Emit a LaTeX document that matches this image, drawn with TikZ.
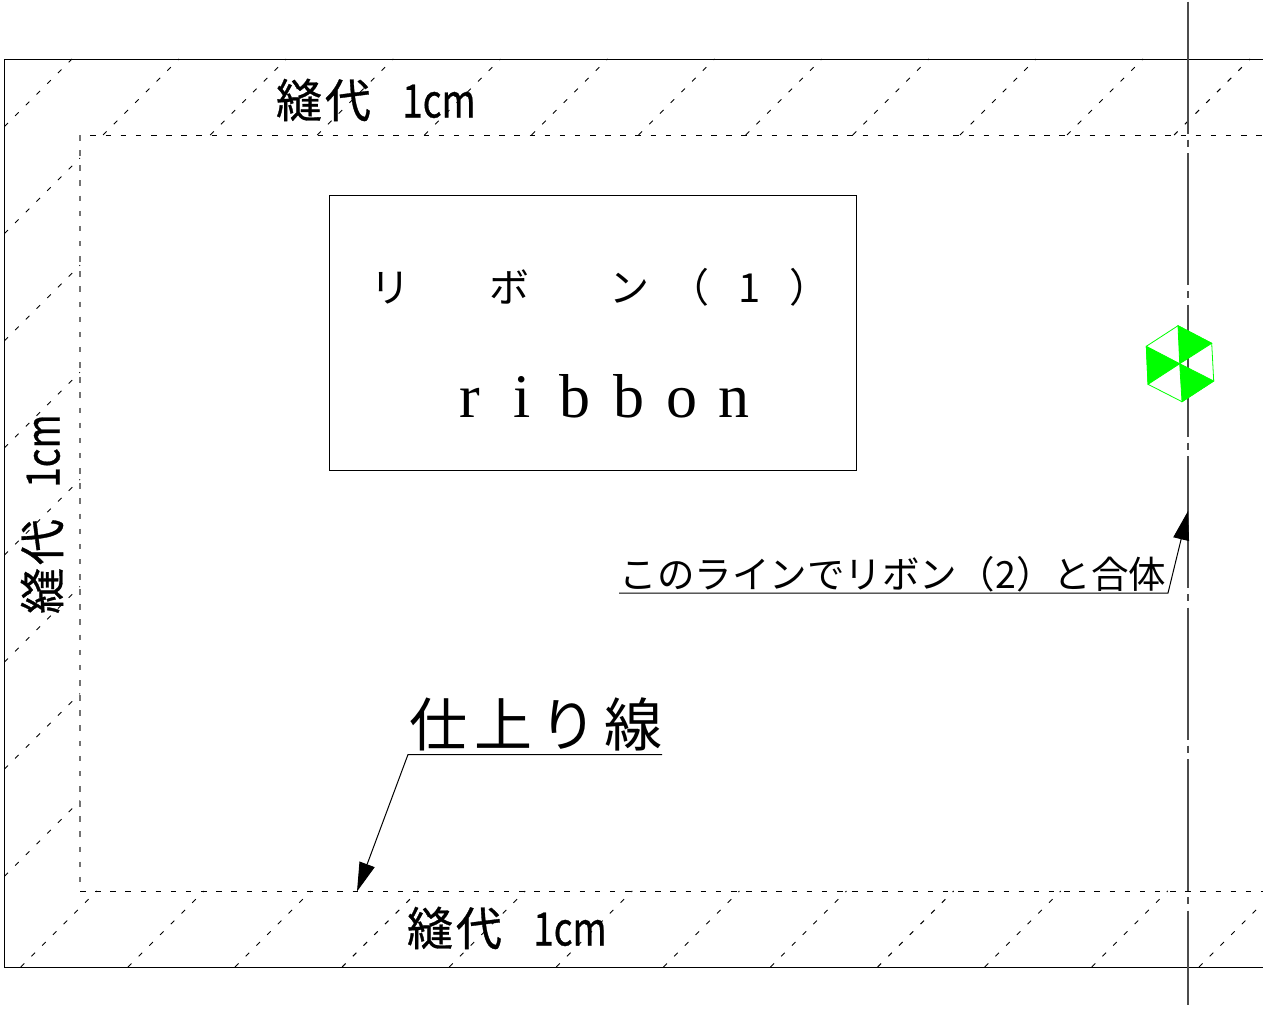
\documentclass[tikz,border=0pt]{standalone}
\usepackage{fontspec}
\usepackage{graphicx}
\usetikzlibrary{arrows.meta}
\newfontfamily\gothic{Noto Sans CJK JP}
\newfontfamily\gothicheavy[FakeBold=0.7]{Noto Sans CJK JP}
\newfontfamily\romanface{Liberation Serif}
\newcommand{\cellbox}[2]{\makebox[#1pt][c]{#2}}
\newcommand{\seamtext}{\cellbox{49}{縫}\cellbox{49}{代}\hspace{30pt}\scalebox{0.8}[1]{1cm}}
\tikzset{
    frameline/.style={draw=black, line width=1pt},
    hatchline/.style={draw=black, line width=0.9pt, dash pattern=on 5pt off 10.15pt},
    sewline/.style={draw=black, line width=1pt, dash pattern=on 5.5pt off 9.64pt},
    foldline/.style={draw=black!70, line width=1.6pt, dash pattern=on 132pt off 6pt on 7pt off 6.5pt},
    leader/.style={draw=black, line width=1pt, -{Triangle[length=29pt,width=16pt]}},
    seamlabel/.style={font=\gothicheavy\fontsize{46}{50}\selectfont, inner sep=0pt},
    hexpart/.style={fill=green, draw=green, line width=0.8pt}
}
\begin{document}
\begin{tikzpicture}[x=1pt,y=-1pt]
\useasboundingbox (0,0) rectangle (1263,1009);
\draw[style={frameline}]
  (1263,59.8) -- (4.4,59.8) -- (4.4,967.3) -- (1263,967.3);
\draw[style={hatchline}] (4.4,126.6) -- (72,59);
\foreach \k [evaluate=\k as \s using 131+107.1*\k] in {1,...,11}
  \draw[style={hatchline}] (\s-135,135) -- (\s-59,59);
\foreach \k [evaluate=\k as \s using 131+107.1*\k] in {1,...,7}
  \draw[style={hatchline}] (4.4,\s-4.4) -- (80,\s-80);
\foreach \k [evaluate=\k as \s using 131+107.1*\k] in {8,...,18}
  \draw[style={hatchline}] (\s-967,967) -- (\s-891,891);
\draw[style={hatchline}] (1199,967) -- (1263,903);
\draw[style={sewline}, dash phase=4.7pt] (80,135.4) -- (1263,135.4);
\draw[style={sewline}] (80,891.4) -- (1263,891.4);
\draw[style={sewline}, draw=black!55, line width=1.6pt] (80,135) -- (80,891);
\draw[style={foldline}] (1188,1.5) -- (1188,1005);
\node (ribbonbox) [draw=black, line width=1pt, inner sep=0pt, minimum width=527pt, minimum height=275pt] at (593,332.5) {};
\node (titlejp) [font=\gothic\fontsize{40}{44}\selectfont, inner sep=0pt] at (600,287)
  {\cellbox{60}{リ}\cellbox{60}{　}\cellbox{60}{ボ}\cellbox{60}{　}\cellbox{60}{ン}\cellbox{60}{（}\cellbox{60}{1}\cellbox{60}{）}};
\node (titleen) [font=\romanface\fontsize{62}{66}\selectfont, inner sep=0pt, anchor=base] at (602,417)
  {\cellbox{53}{r}\cellbox{53}{i}\cellbox{53}{b}\cellbox{53}{b}\cellbox{53}{o}\cellbox{53}{n}};
\node (seamtop) [style={seamlabel}] at (375,100) {\seamtext};
\node (seambottom) [style={seamlabel}] at (506,928) {\seamtext};
\node (seamleft) [style={seamlabel}, rotate=90] at (42,515) {\seamtext};
\node (mergetext) [font=\gothic\fontsize{37.5}{40}\selectfont, inner sep=0pt] at (893,574)
  {このラインでリボン（\cellbox{22}{2}）と合体};
\node (finishtext) [font=\gothic\fontsize{58}{62}\selectfont, inner sep=0pt] at (536,724)
  {\cellbox{65}{仕}\cellbox{65}{上}\cellbox{65}{り}\cellbox{65}{線}};
\coordinate (mergestart) at (619,593);
\coordinate (mergebend) at (1168,593);
\coordinate (mergetip) at (1188,511);
\coordinate (finishstart) at (662,754.5);
\coordinate (finishbend) at (408,754.5);
\coordinate (finishtip) at (357,891.5);
\draw[style={leader}] (mergestart) -- (mergebend) -- (mergetip);
\draw[style={leader}] (finishstart) -- (finishbend) -- (finishtip);
\coordinate (hexmid) at (1179.7,363.7);
\coordinate (hexa) at (1178,325.7);
\coordinate (hexb) at (1211.7,343.3);
\coordinate (hexc) at (1213.7,381);
\coordinate (hexd) at (1182,401.7);
\coordinate (hexe) at (1148,384.3);
\coordinate (hexf) at (1146.3,346.3);
\draw[draw=green, line width=0.8pt] (hexa) -- (hexb) -- (hexc) -- (hexd) -- (hexe) -- (hexf) -- cycle;
\draw[style={hexpart}] (hexmid) -- (hexa) -- (hexb) -- cycle;
\draw[style={hexpart}] (hexmid) -- (hexc) -- (hexd) -- cycle;
\draw[style={hexpart}] (hexmid) -- (hexe) -- (hexf) -- cycle;
\end{tikzpicture}
\end{document}
